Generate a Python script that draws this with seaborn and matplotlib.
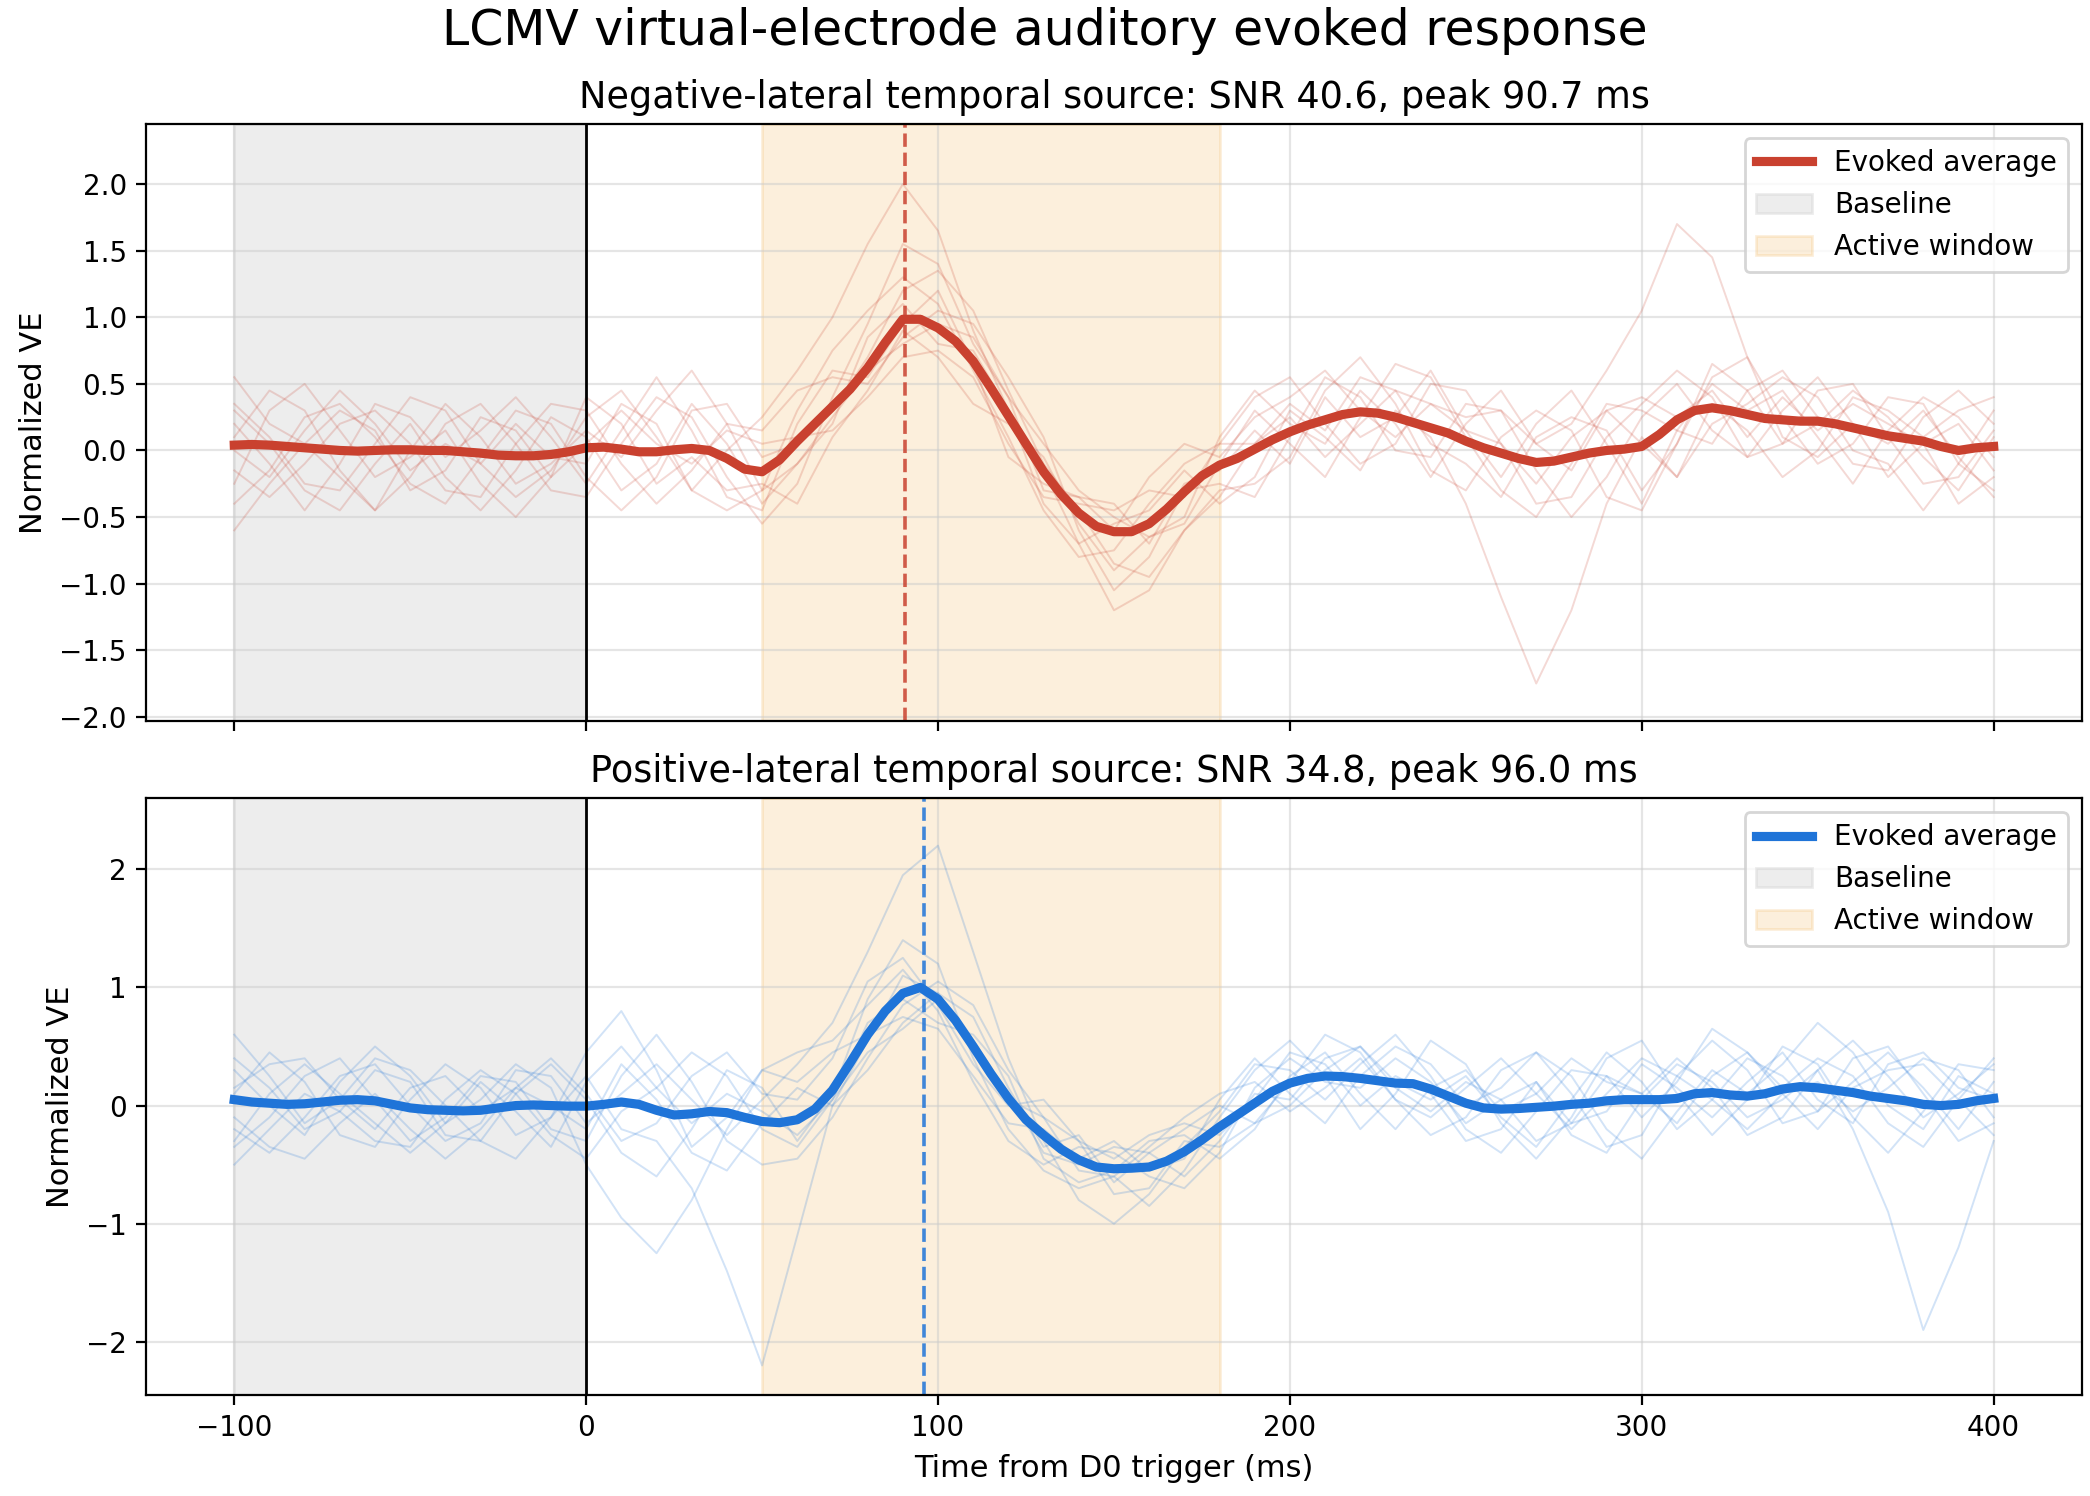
import pandas as pd
import seaborn as sns
import matplotlib.pyplot as plt

# -----------------------------
# Data
# -----------------------------
evoked_times = list(range(-100, 401, 5))
trial_times = list(range(-100, 401, 10))

neg_evoked = [
    0.04, 0.045, 0.04, 0.03, 0.02, 0.01, 0.0, -0.005, 0.0, 0.005,
    0.005, 0.0, 0.0, -0.01, -0.02, -0.035, -0.04, -0.04, -0.03, -0.01,
    0.02, 0.025, 0.01, -0.01, -0.01, 0.005, 0.015, 0.0, -0.06, -0.14,
    -0.16, -0.07, 0.07, 0.2, 0.33, 0.46, 0.62, 0.81, 0.985, 0.985,
    0.92, 0.82, 0.67, 0.47, 0.26, 0.05, -0.16, -0.33, -0.47, -0.57,
    -0.61, -0.61, -0.55, -0.44, -0.31, -0.19, -0.11, -0.06, 0.01, 0.08,
    0.14, 0.19, 0.23, 0.27, 0.29, 0.28, 0.25, 0.21, 0.17, 0.13,
    0.07, 0.02, -0.02, -0.06, -0.09, -0.08, -0.05, -0.02, 0.0, 0.01,
    0.03, 0.12, 0.23, 0.3, 0.32, 0.3, 0.27, 0.24, 0.23, 0.22,
    0.22, 0.2, 0.17, 0.14, 0.11, 0.09, 0.07, 0.03, 0.0, 0.02,
    0.03,
]

pos_evoked = [
    0.05, 0.03, 0.02, 0.01, 0.015, 0.03, 0.045, 0.05, 0.04, 0.01,
    -0.02, -0.035, -0.04, -0.045, -0.04, -0.02, 0.0, 0.005, 0.0, -0.005,
    -0.005, 0.01, 0.03, 0.01, -0.04, -0.08, -0.07, -0.05, -0.06, -0.1,
    -0.135, -0.145, -0.12, -0.03, 0.13, 0.36, 0.6, 0.8, 0.95, 1.0,
    0.9, 0.72, 0.5, 0.27, 0.06, -0.12, -0.25, -0.37, -0.46, -0.52,
    -0.535, -0.53, -0.52, -0.47, -0.39, -0.29, -0.18, -0.08, 0.02, 0.12,
    0.19, 0.23, 0.25, 0.245, 0.23, 0.21, 0.19, 0.185, 0.14, 0.08,
    0.02, -0.02, -0.03, -0.025, -0.015, -0.005, 0.01, 0.02, 0.04, 0.05,
    0.05, 0.05, 0.06, 0.1, 0.11, 0.09, 0.08, 0.1, 0.14, 0.16,
    0.15, 0.13, 0.11, 0.08, 0.06, 0.04, 0.01, 0.0, 0.01, 0.04,
    0.06,
]

# single trials, negative-lateral source (every 10 ms)
neg_trials = [
    [0.35, 0.10, -0.25, -0.30, 0.05, 0.40, 0.30, -0.10, -0.35, -0.15, 0.25, 0.45, 0.10, -0.30, -0.45, -0.30, 0.30, 0.75, 1.05, 1.30, 1.10, 0.60, 0.10, -0.45, -0.80, -0.75, -0.40, -0.10, 0.05, 0.40, 0.55, 0.20, -0.10, 0.05, 0.50, 0.45, 0.05, -0.40, -0.35, 0.10, 0.35, 0.60, 0.40, -0.05, 0.05, 0.45, 0.50, 0.10, -0.25, -0.20, 0.15],
    [-0.40, -0.15, 0.25, 0.35, 0.10, -0.25, -0.40, -0.05, 0.30, 0.20, -0.20, -0.45, -0.20, 0.30, 0.35, -0.05, 0.05, 0.30, 0.70, 1.20, 1.35, 1.05, 0.45, -0.10, -0.45, -0.85, -0.95, -0.60, -0.30, -0.25, -0.05, 0.45, 0.70, 0.35, -0.15, -0.30, 0.10, 0.30, 0.15, -0.35, -0.45, 0.05, 0.55, 0.70, 0.25, -0.10, 0.05, 0.40, 0.35, -0.10, -0.30],
    [0.10, 0.45, 0.30, -0.15, -0.45, -0.20, 0.20, 0.35, 0.05, -0.30, -0.35, 0.05, 0.40, 0.25, -0.20, -0.55, -0.25, 0.40, 0.95, 1.55, 1.40, 0.80, 0.40, 0.05, -0.30, -0.50, -0.65, -0.55, -0.10, 0.30, 0.05, -0.20, 0.25, 0.65, 0.55, 0.10, -0.30, -0.50, -0.10, 0.35, 0.30, 0.15, 0.05, 0.45, 0.60, 0.25, -0.10, -0.15, 0.25, 0.45, 0.20],
    [-0.15, -0.35, -0.10, 0.20, 0.30, 0.05, -0.30, -0.35, 0.05, 0.35, 0.30, -0.10, -0.40, -0.15, 0.20, 0.15, 0.45, 0.55, 0.50, 0.85, 1.05, 0.95, 0.55, 0.10, -0.60, -1.05, -0.80, -0.30, -0.25, -0.35, 0.10, 0.55, 0.40, 0.00, -0.05, 0.35, 0.30, -0.15, -0.50, -0.20, 0.25, 0.50, 0.15, -0.05, 0.30, 0.55, 0.20, -0.20, 0.05, 0.20, -0.15],
    [0.55, 0.20, 0.05, 0.30, 0.15, -0.30, -0.15, 0.25, 0.15, -0.20, 0.05, 0.30, 0.05, -0.10, 0.15, 0.05, 0.10, 0.15, 0.40, 0.70, 0.75, 0.55, 0.05, -0.35, -0.40, -0.45, -0.30, -0.35, 0.05, 0.05, 0.35, 0.15, 0.55, 0.45, 0.05, -0.10, -0.35, 0.10, 0.25, 0.15, -0.30, 0.05, 0.65, 0.45, 0.05, 0.20, 0.45, 0.25, -0.05, -0.30, 0.10],
    [-0.60, -0.25, 0.05, -0.20, -0.45, 0.00, 0.35, 0.10, -0.25, -0.10, 0.15, -0.05, 0.30, 0.60, 0.20, -0.30, -0.10, 0.20, 0.85, 1.10, 0.80, 0.75, 0.30, -0.40, -0.70, -0.55, -0.45, -0.15, -0.40, -0.20, 0.30, 0.10, -0.15, 0.30, 0.10, -0.40, -1.10, -1.75, -1.20, -0.40, 0.10, -0.20, 0.35, 0.15, -0.20, 0.00, 0.40, 0.30, 0.10, 0.30, 0.40],
    [0.20, -0.10, -0.45, -0.10, 0.35, 0.25, -0.05, 0.15, 0.40, 0.10, -0.25, 0.15, 0.55, 0.15, -0.35, -0.45, 0.20, 0.60, 0.55, 0.95, 1.20, 0.65, -0.05, -0.25, -0.35, -0.60, -0.20, 0.05, -0.05, 0.25, 0.40, 0.60, 0.30, 0.10, 0.35, 0.25, 0.30, 0.05, 0.20, 0.60, 1.05, 1.70, 1.45, 0.70, 0.10, -0.05, 0.20, 0.05, 0.30, -0.05, -0.35],
    [-0.25, 0.30, 0.50, 0.15, -0.20, -0.05, 0.15, -0.25, -0.50, -0.20, 0.40, 0.20, -0.25, -0.05, -0.30, -0.25, -0.40, 0.10, 0.45, 0.90, 0.70, 0.35, 0.20, -0.05, -0.55, -0.90, -0.65, -0.50, 0.10, 0.45, 0.20, 0.05, 0.45, 0.20, -0.20, 0.20, 0.45, 0.05, -0.15, 0.30, 0.05, -0.20, 0.20, 0.35, 0.55, 0.40, 0.00, -0.10, -0.45, -0.10, 0.30],
    [0.00, -0.20, 0.15, 0.45, 0.20, -0.15, 0.05, -0.10, 0.20, -0.05, -0.10, 0.35, 0.20, -0.30, 0.00, 0.25, 0.60, 1.00, 1.55, 2.00, 1.65, 0.90, 0.30, -0.15, -0.70, -1.20, -1.05, -0.60, -0.35, 0.05, 0.25, -0.05, 0.20, 0.45, 0.35, 0.15, -0.20, 0.20, 0.45, 0.05, -0.40, 0.15, 0.50, 0.30, 0.45, 0.10, -0.25, 0.15, 0.40, 0.25, -0.05],
    [0.30, 0.05, -0.30, -0.45, -0.10, 0.20, -0.20, -0.45, -0.15, 0.25, 0.10, -0.30, -0.10, 0.35, 0.05, -0.40, -0.10, 0.25, 0.60, 0.80, 0.95, 0.85, 0.40, -0.30, -0.35, -0.40, -0.70, -0.25, -0.15, 0.15, -0.10, 0.40, 0.10, 0.25, 0.60, 0.15, 0.05, -0.25, 0.10, 0.30, 0.40, 0.25, 0.45, 0.10, 0.40, 0.15, 0.35, 0.20, 0.05, -0.40, -0.20],
]

# single trials, positive-lateral source (every 10 ms)
pos_trials = [
    [0.40, 0.15, -0.20, -0.05, 0.30, 0.20, -0.25, -0.30, 0.10, 0.35, 0.05, -0.40, -0.60, -0.20, 0.30, 0.15, -0.30, 0.10, 0.90, 1.40, 1.20, 0.40, -0.20, -0.55, -0.70, -0.60, -0.85, -0.55, -0.10, 0.30, 0.55, 0.25, -0.20, 0.10, 0.55, 0.35, -0.15, -0.45, -0.10, 0.40, 0.55, 0.10, -0.25, 0.05, 0.50, 0.35, -0.10, -0.40, -0.05, 0.35, 0.30],
    [-0.35, -0.10, 0.25, 0.40, 0.05, -0.30, -0.10, 0.25, 0.20, -0.20, -0.30, 0.25, 0.60, 0.20, -0.30, -0.50, -0.45, -0.10, 0.40, 0.85, 1.05, 0.85, 0.30, -0.10, -0.30, -0.75, -0.70, -0.30, -0.35, -0.15, 0.20, 0.60, 0.45, 0.05, -0.25, -0.10, 0.30, 0.45, 0.10, -0.35, -0.25, 0.25, 0.55, 0.30, -0.15, -0.05, 0.40, 0.50, 0.10, -0.30, -0.15],
    [0.10, 0.45, 0.20, -0.25, -0.35, 0.05, 0.35, 0.15, -0.25, -0.10, 0.25, -0.20, -0.30, -0.70, -1.40, -2.20, -1.10, 0.00, 0.55, 1.10, 0.95, 0.55, 0.10, -0.40, -0.50, -0.35, -0.40, -0.60, -0.30, 0.10, 0.05, 0.40, 0.50, 0.15, -0.05, 0.20, 0.05, -0.30, -0.15, 0.25, 0.10, -0.15, 0.25, 0.45, 0.10, -0.20, 0.15, 0.30, 0.35, 0.05, -0.25],
    [-0.20, -0.40, -0.10, 0.25, 0.35, 0.00, -0.30, -0.15, 0.30, 0.25, -0.15, 0.10, 0.35, 0.05, -0.25, 0.05, 0.35, 0.70, 1.30, 1.95, 2.20, 1.30, 0.40, -0.30, -0.80, -1.00, -0.75, -0.35, -0.05, 0.35, 0.30, 0.05, 0.35, 0.60, 0.25, -0.20, -0.40, -0.05, 0.30, 0.25, -0.10, 0.20, 0.65, 0.45, 0.15, 0.40, 0.25, -0.15, -0.35, 0.05, 0.40],
    [0.60, 0.25, -0.15, 0.05, 0.40, 0.30, 0.00, -0.30, -0.45, -0.10, 0.45, 0.80, 0.30, -0.35, -0.10, 0.30, 0.20, 0.45, 0.60, 0.75, 0.65, 0.25, -0.15, -0.20, -0.45, -0.30, -0.55, -0.45, 0.05, 0.40, 0.10, -0.15, 0.25, 0.50, 0.35, 0.00, 0.15, 0.45, 0.25, -0.20, -0.45, -0.05, 0.30, 0.10, 0.35, 0.70, 0.45, 0.00, -0.20, 0.25, 0.10],
    [-0.50, -0.20, 0.10, -0.05, -0.30, -0.35, 0.05, 0.30, 0.10, -0.25, -0.45, -0.05, 0.15, 0.45, 0.25, -0.20, -0.35, 0.05, 0.70, 0.90, 0.70, 0.60, 0.25, -0.45, -0.65, -0.55, -0.30, -0.25, -0.45, -0.20, 0.25, 0.45, 0.10, -0.20, 0.15, 0.30, -0.05, 0.10, 0.40, 0.20, 0.10, 0.40, 0.15, -0.25, -0.10, 0.30, -0.20, -0.90, -1.90, -1.20, -0.30],
    [0.15, 0.35, 0.40, 0.05, -0.20, 0.15, 0.25, -0.05, 0.15, 0.40, 0.10, -0.30, -0.15, 0.25, 0.45, 0.10, 0.05, 0.40, 1.05, 1.25, 0.85, 0.35, 0.00, 0.05, -0.30, -0.45, -0.25, -0.15, -0.25, 0.05, 0.45, 0.35, 0.00, 0.25, 0.10, -0.30, -0.20, 0.20, -0.15, -0.05, 0.35, 0.15, -0.10, 0.20, 0.45, 0.05, -0.15, 0.35, 0.45, 0.15, 0.05],
    [-0.10, -0.35, -0.45, -0.15, 0.10, -0.20, -0.45, -0.20, 0.15, 0.00, -0.20, 0.35, 0.05, -0.40, -0.55, -0.15, 0.15, 0.00, 0.30, 0.70, 0.95, 0.75, 0.15, -0.35, -0.25, -0.65, -0.40, -0.20, 0.00, -0.15, 0.00, 0.30, 0.50, 0.20, 0.05, 0.25, -0.10, -0.35, 0.05, 0.45, 0.20, -0.20, 0.05, 0.40, 0.25, -0.05, 0.20, 0.45, 0.15, -0.20, 0.20],
    [0.30, 0.00, -0.25, 0.20, 0.50, 0.25, -0.15, 0.05, 0.35, 0.15, -0.50, -0.95, -1.25, -0.80, -0.20, 0.30, 0.45, 0.55, 0.85, 1.15, 0.80, 0.20, -0.30, -0.50, -0.35, -0.40, -0.60, -0.70, -0.40, 0.15, 0.40, 0.20, 0.15, 0.40, 0.20, -0.15, 0.05, 0.20, -0.25, -0.40, 0.05, 0.35, 0.20, -0.10, 0.05, 0.30, 0.55, 0.25, -0.10, 0.10, 0.35],
    [-0.30, 0.10, 0.35, 0.10, -0.15, -0.40, -0.15, 0.20, -0.05, -0.35, 0.20, 0.50, 0.15, -0.15, 0.10, -0.05, -0.25, 0.05, 0.45, 0.65, 0.90, 0.50, 0.05, -0.10, -0.55, -0.60, -0.35, -0.10, 0.10, 0.20, -0.05, 0.15, 0.40, 0.05, -0.10, 0.15, 0.40, 0.10, -0.20, 0.10, 0.40, 0.25, 0.05, -0.20, 0.10, 0.20, -0.05, 0.15, 0.40, 0.30, -0.10],
]

panels = [
    {
        "title": "Negative-lateral temporal source: SNR 40.6, peak 90.7 ms",
        "evoked": neg_evoked,
        "trials": neg_trials,
        "peak": 90.7,
        "color": "#c9412f",
        "ylim": (-2.03, 2.45),
        "yticks": [-2.0, -1.5, -1.0, -0.5, 0.0, 0.5, 1.0, 1.5, 2.0],
    },
    {
        "title": "Positive-lateral temporal source: SNR 34.8, peak 96.0 ms",
        "evoked": pos_evoked,
        "trials": pos_trials,
        "peak": 96.0,
        "color": "#1f74d8",
        "ylim": (-2.45, 2.60),
        "yticks": [-2, -1, 0, 1, 2],
    },
]

baseline_win = (-100, 0)
active_win = (50, 180)

# -----------------------------
# Plot
# -----------------------------
plt.rcParams["font.family"] = ["DejaVu Sans"]

fig, axes = plt.subplots(2, 1, figsize=(10.45, 7.48), dpi=200, sharex=True)
fig.subplots_adjust(left=0.070, right=0.996, top=0.917, bottom=0.0675, hspace=0.13)

for ax, p in zip(axes, panels):
    ax.axvspan(*baseline_win, color="#d0d0d0", alpha=0.38, label="Baseline", zorder=0)
    ax.axvspan(*active_win, color="#f0b050", alpha=0.2, label="Active window", zorder=0)

    trial_df = pd.DataFrame(
        [(i, t, v) for i, tr in enumerate(p["trials"]) for t, v in zip(trial_times, tr)],
        columns=["trial", "time", "value"],
    )
    sns.lineplot(
        data=trial_df, x="time", y="value", units="trial", estimator=None,
        color=p["color"], alpha=0.2, linewidth=0.7, legend=False, ax=ax,
    )

    sns.lineplot(
        x=evoked_times, y=p["evoked"], color=p["color"], linewidth=3.3,
        label="Evoked average", ax=ax,
    )

    ax.axvline(0, color="black", linewidth=1.0)
    ax.axvline(p["peak"], color=p["color"], linestyle="--", linewidth=1.3, alpha=0.85)

    ax.grid(True, color="#cccccc", alpha=0.5, linewidth=0.8)
    ax.set_axisbelow(True)
    ax.set_ylim(*p["ylim"])
    ax.set_yticks(p["yticks"])
    ax.set_ylabel("Normalized VE", fontsize=11)
    ax.set_xlabel("")
    ax.set_title(p["title"], fontsize=13.2)
    ax.tick_params(labelsize=10)

    handles, labels = ax.get_legend_handles_labels()
    order = [labels.index(k) for k in ["Evoked average", "Baseline", "Active window"]]
    ax.legend([handles[i] for i in order], [labels[i] for i in order],
              loc="upper right", fontsize=10)

axes[1].set_xlim(-125, 425)
axes[1].set_xticks([-100, 0, 100, 200, 300, 400])
axes[1].set_xlabel("Time from D0 trigger (ms)", fontsize=11)

fig.suptitle("LCMV virtual-electrode auditory evoked response", fontsize=17.6, y=0.995)

fig.savefig("out.png", dpi=200)
